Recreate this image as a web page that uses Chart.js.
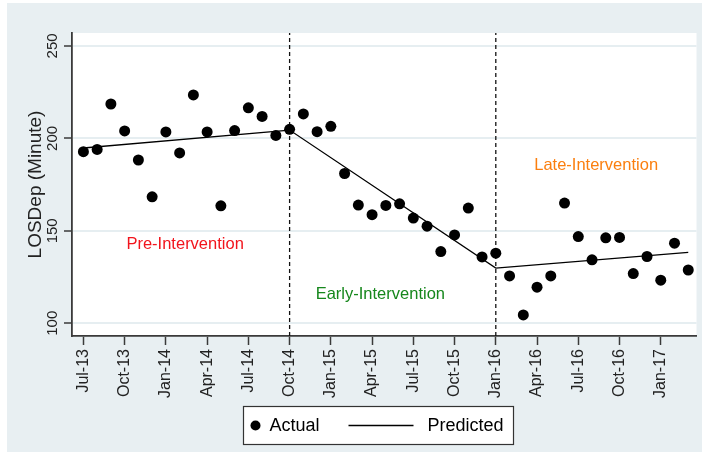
<!DOCTYPE html>
<html lang="en">
<head>
    <meta charset="UTF-8">
    <title>LOSDep interrupted time series</title>
    <script src="https://cdn.jsdelivr.net/npm/chart.js"></script>
    <style>
        body {
            margin: 0;
            background: #fff;
        }
        #wrap {
            width: 702px;
            height: 452px;
        }
    </style>
</head>
<body>

    <div id="wrap">
        <canvas id="itsChart" width="702" height="452"></canvas>
    </div>

    <script>
        // months counted from Jul-13 (0) to Mar-17 (44)
        const actual = [
            192.8, 194.0, 218.6, 204.0, 188.3, 168.4, 203.5, 192.1, 223.5, 203.5,
            163.5, 204.2, 216.5, 211.9, 201.6, 204.9, 213.2, 203.6, 206.5, 181.0,
            163.9, 158.7, 163.7, 164.6, 156.9, 152.5, 138.8, 147.8, 162.3, 135.9,
            137.9, 125.6, 104.5, 119.5, 125.6, 165.0, 146.9, 134.3, 146.2, 146.4,
            126.9, 136.1, 123.3, 143.3, 128.8
        ];

        // predicted segments: vertices at start, interventions, end
        const predMonths = [0, 15, 30, 44];
        const predValues = [194.8, 204.5, 129.8, 138.3];

        const interventionMonths = [15, 30];

        const tickMonths = [0, 3, 6, 9, 12, 15, 18, 21, 24, 27, 30, 33, 36, 39, 42];
        const tickLabels = ['Jul-13', 'Oct-13', 'Jan-14', 'Apr-14', 'Jul-14', 'Oct-14', 'Jan-15', 'Apr-15',
            'Jul-15', 'Oct-15', 'Jan-16', 'Apr-16', 'Jul-16', 'Oct-16', 'Jan-17'];
        const yTicks = [100, 150, 200, 250];

        const phaseLabels = ['Pre-Intervention', 'Early-Intervention', 'Late-Intervention'];
        const phaseX = [7.4, 21.6, 37.3];
        const phaseY = [142.8, 115.7, 185.6];
        const phaseColors = ['#f2141c', '#16871c', '#fb7f0f'];

        const X_MIN = -0.83, X_MAX = 44.6;
        const Y_MIN = 93.1, Y_MAX = 257.0;

        const FONT = '"Liberation Sans", Arial, sans-serif';
        const AXIS = '#3a3a3a';

        const actualPts = actual.map((v, i) => ({ x: i, y: v }));
        const predPts = predMonths.map((m, i) => ({ x: m, y: predValues[i] }));
        const vlines = interventionMonths.map(m => ({
            label: 'xline',
            data: [{ x: m, y: Y_MIN }, { x: m, y: Y_MAX }],
            showLine: true,
            borderColor: '#111',
            borderWidth: 1.3,
            borderDash: [4, 3],
            pointRadius: 0,
            order: 3
        }));

        const stataLook = {
            id: 'stataLook',
            beforeDraw(chart) {
                const { ctx, chartArea: a } = chart;
                ctx.save();
                ctx.fillStyle = '#ffffff';
                ctx.fillRect(0, 0, chart.width, chart.height);
                ctx.fillStyle = '#e8eff2';
                ctx.fillRect(7, 3, chart.width - 7, chart.height - 3);
                ctx.fillStyle = '#ffffff';
                ctx.fillRect(a.left, a.top, a.right - a.left, a.bottom - a.top);
                ctx.restore();
            },
            afterDatasetsDraw(chart) {
                const { ctx, scales: { x, y } } = chart;
                ctx.save();
                ctx.font = '16.5px ' + FONT;
                ctx.textAlign = 'center';
                ctx.textBaseline = 'middle';
                phaseLabels.forEach((t, i) => {
                    ctx.fillStyle = phaseColors[i];
                    ctx.fillText(t, x.getPixelForValue(phaseX[i]), y.getPixelForValue(phaseY[i]));
                });
                ctx.restore();
            },
            afterDraw(chart) {
                const { ctx, scales: { y } } = chart;
                ctx.save();
                // rotated y tick labels
                ctx.font = '15px ' + FONT;
                ctx.fillStyle = '#222';
                ctx.textAlign = 'center';
                ctx.textBaseline = 'middle';
                y.ticks.forEach(t => {
                    ctx.save();
                    ctx.translate(53, y.getPixelForValue(t.value));
                    ctx.rotate(-Math.PI / 2);
                    ctx.fillText(String(t.value), 0, 0);
                    ctx.restore();
                });

                // legend box
                const bx = 243.5, by = 406.5, bw = 270, bh = 38;
                const cy = by + bh / 2;
                ctx.fillStyle = '#fff';
                ctx.fillRect(bx, by, bw, bh);
                ctx.strokeStyle = '#333';
                ctx.lineWidth = 1.2;
                ctx.strokeRect(bx, by, bw, bh);

                ctx.fillStyle = '#000';
                ctx.beginPath();
                ctx.arc(bx + 12, cy, 5, 0, Math.PI * 2);
                ctx.fill();

                ctx.font = '18px ' + FONT;
                ctx.textAlign = 'left';
                ctx.fillText(chart.data.datasets[0].label, bx + 26, cy + 1);

                ctx.strokeStyle = '#000';
                ctx.lineWidth = 1.3;
                ctx.beginPath();
                ctx.moveTo(bx + 105, cy);
                ctx.lineTo(bx + 170, cy);
                ctx.stroke();
                ctx.fillText(chart.data.datasets[1].label, bx + 184, cy + 1);
                ctx.restore();
            }
        };

        const itsChart = new Chart(document.getElementById('itsChart'), {
            type: 'scatter',
            data: {
                datasets: [
                    {
                        label: 'Actual',
                        data: actualPts,
                        backgroundColor: '#000',
                        borderWidth: 0,
                        pointRadius: 5.5,
                        order: 1
                    },
                    {
                        label: 'Predicted',
                        data: predPts,
                        showLine: true,
                        borderColor: '#000',
                        borderWidth: 1.3,
                        pointRadius: 0,
                        tension: 0,
                        order: 2
                    },
                    ...vlines
                ]
            },
            options: {
                responsive: false,
                animation: false,
                layout: {
                    padding: { left: 7, right: 5, top: 33, bottom: 0 }
                },
                plugins: {
                    legend: { display: false },
                    tooltip: { enabled: false }
                },
                scales: {
                    x: {
                        type: 'linear',
                        min: X_MIN,
                        max: X_MAX,
                        afterBuildTicks: s => { s.ticks = tickMonths.map(v => ({ value: v })); },
                        afterFit: s => { s.height = 116; },
                        grid: {
                            drawOnChartArea: false,
                            tickLength: 9,
                            tickColor: AXIS,
                            tickWidth: 1.5
                        },
                        border: { color: AXIS, width: 1.8 },
                        ticks: {
                            autoSkip: false,
                            minRotation: 90,
                            maxRotation: 90,
                            padding: 4,
                            color: '#222',
                            font: { family: FONT, size: 16 },
                            callback: v => tickLabels[tickMonths.indexOf(v)]
                        }
                    },
                    y: {
                        min: Y_MIN,
                        max: Y_MAX,
                        afterBuildTicks: s => { s.ticks = yTicks.map(v => ({ value: v })); },
                        afterFit: s => { s.width = 65; },
                        grid: {
                            color: '#e6eef1',
                            lineWidth: 2,
                            tickLength: 8,
                            tickColor: AXIS,
                            tickWidth: 1.5
                        },
                        border: { color: AXIS, width: 1.8 },
                        ticks: { display: false },
                        title: {
                            display: true,
                            text: 'LOSDep (Minute)',
                            color: '#222',
                            font: { family: FONT, size: 19 },
                            padding: { top: 17, bottom: 0 }
                        }
                    }
                }
            },
            plugins: [stataLook]
        });
    </script>

</body>
</html>
